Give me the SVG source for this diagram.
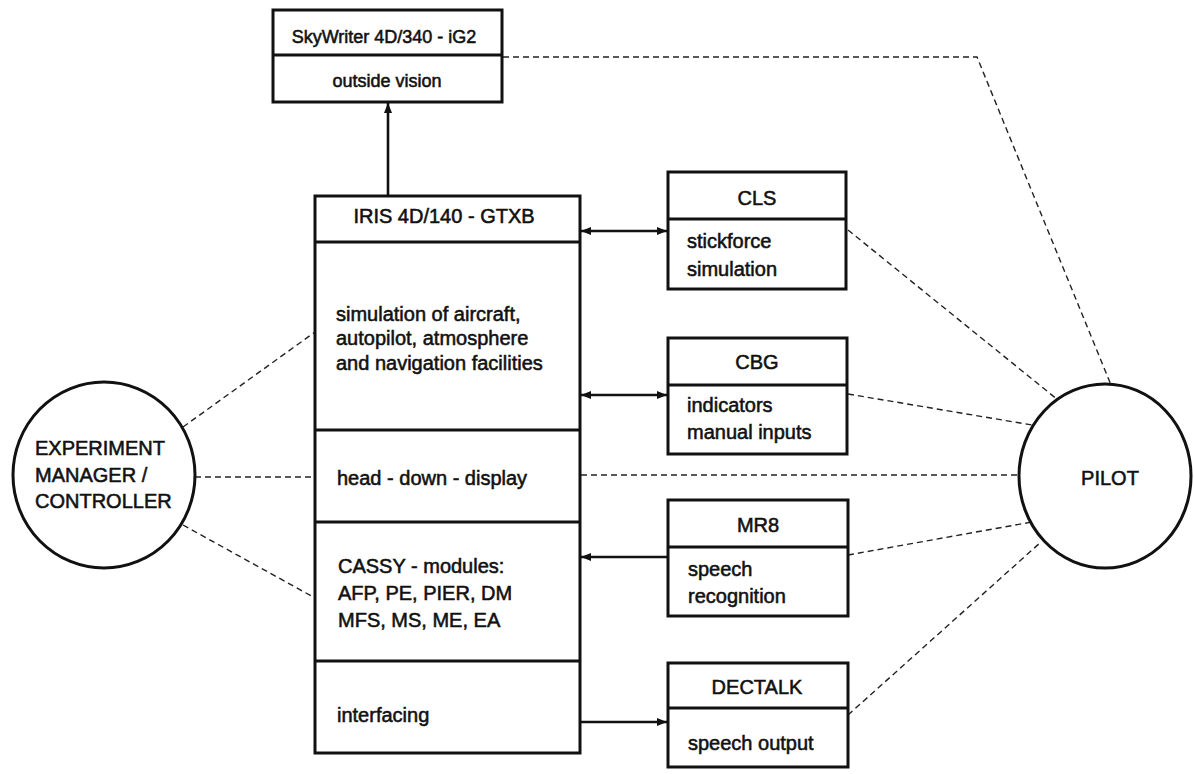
<svg xmlns="http://www.w3.org/2000/svg" width="1194" height="774" viewBox="0 0 1194 774">
<style>
  .box { fill: none; stroke: #111; stroke-width: 3; }
  .div { stroke: #111; stroke-width: 3; }
  .t { font-family: "Liberation Sans", Arial, sans-serif; font-size: 20px; fill: #111; stroke: #111; stroke-width: 0.55; }
  .ts { font-size: 18px; }
  .c { text-anchor: middle; }
  .dash { fill: none; stroke: #222; stroke-width: 1.4; stroke-dasharray: 6 4; }
  .arr { fill: none; stroke: #111; stroke-width: 2.6; }
  .circ { fill: none; stroke: #111; stroke-width: 3; }
</style>
<defs>
  <marker id="ah" viewBox="0 0 10 8" refX="10" refY="4" markerWidth="10" markerHeight="8" markerUnits="userSpaceOnUse" orient="auto-start-reverse">
    <path d="M0,0 L10,4 L0,8 z" fill="#111"/>
  </marker>
</defs>
<rect width="1194" height="774" fill="#fff"/>

<g id="connectors">
  <line class="arr" x1="388" y1="196" x2="388" y2="103" marker-end="url(#ah)"/>
  <line class="arr" x1="581" y1="231" x2="667" y2="231" marker-start="url(#ah)" marker-end="url(#ah)"/>
  <line class="arr" x1="581" y1="395" x2="667" y2="395" marker-start="url(#ah)" marker-end="url(#ah)"/>
  <line class="arr" x1="667" y1="557" x2="581" y2="557" marker-end="url(#ah)"/>
  <line class="arr" x1="581" y1="722" x2="667" y2="722" marker-end="url(#ah)"/>
  <polyline class="dash" points="503,57 977,57 1111,385"/>
  <line class="dash" x1="848" y1="230" x2="1058" y2="400"/>
  <line class="dash" x1="848" y1="394" x2="1032" y2="425"/>
  <line class="dash" x1="581" y1="475" x2="1019" y2="475"/>
  <line class="dash" x1="848" y1="555" x2="1032" y2="522"/>
  <line class="dash" x1="848" y1="715" x2="1041" y2="542"/>
  <line class="dash" x1="183" y1="427" x2="315" y2="332"/>
  <line class="dash" x1="195" y1="477" x2="315" y2="477"/>
  <line class="dash" x1="183" y1="525" x2="315" y2="598"/>
</g>

<g id="skywriter">
  <rect class="box" x="273" y="10" width="229" height="92"/>
  <line class="div" x1="273" y1="55" x2="502" y2="55"/>
  <text class="t ts c" x="384" y="43">SkyWriter 4D/340 - iG2</text>
  <text class="t ts c" x="387" y="87">outside vision</text>
</g>

<g id="iris">
  <rect class="box" x="315" y="196" width="265" height="557"/>
  <line class="div" x1="315" y1="242" x2="580" y2="242"/>
  <line class="div" x1="315" y1="430" x2="580" y2="430"/>
  <line class="div" x1="315" y1="522" x2="580" y2="522"/>
  <line class="div" x1="315" y1="661" x2="580" y2="661"/>
  <text class="t c" x="444" y="223">IRIS 4D/140 - GTXB</text>
  <text class="t" x="336" y="321">simulation of aircraft,</text>
  <text class="t" x="336" y="345">autopilot, atmosphere</text>
  <text class="t" x="336" y="370">and navigation facilities</text>
  <text class="t" x="337" y="485">head - down - display</text>
  <text class="t" x="338" y="573">CASSY - modules:</text>
  <text class="t" x="338" y="600">AFP, PE, PIER, DM</text>
  <text class="t" x="338" y="627">MFS, MS, ME, EA</text>
  <text class="t" x="337" y="722">interfacing</text>
</g>

<g id="cls">
  <rect class="box" x="668" y="172" width="178" height="117"/>
  <line class="div" x1="668" y1="219" x2="846" y2="219"/>
  <text class="t c" x="757" y="205">CLS</text>
  <text class="t" x="687" y="248">stickforce</text>
  <text class="t" x="687" y="276">simulation</text>
</g>

<g id="cbg">
  <rect class="box" x="668" y="338" width="179" height="116"/>
  <line class="div" x1="668" y1="385" x2="847" y2="385"/>
  <text class="t c" x="757" y="369">CBG</text>
  <text class="t" x="687" y="412">indicators</text>
  <text class="t" x="687" y="439">manual inputs</text>
</g>

<g id="mr8">
  <rect class="box" x="668" y="500" width="180" height="116"/>
  <line class="div" x1="668" y1="547" x2="848" y2="547"/>
  <text class="t c" x="758" y="532">MR8</text>
  <text class="t" x="688" y="576">speech</text>
  <text class="t" x="688" y="603">recognition</text>
</g>

<g id="dectalk">
  <rect class="box" x="668" y="663" width="180" height="104"/>
  <line class="div" x1="668" y1="708" x2="848" y2="708"/>
  <text class="t c" x="757" y="694">DECTALK</text>
  <text class="t" x="688" y="750">speech output</text>
</g>

<g id="experiment">
  <ellipse class="circ" cx="104" cy="475" rx="91" ry="93"/>
  <text class="t" x="35" y="455">EXPERIMENT</text>
  <text class="t" x="35" y="482">MANAGER /</text>
  <text class="t" x="35" y="508">CONTROLLER</text>
</g>

<g id="pilot">
  <ellipse class="circ" cx="1105" cy="476" rx="86" ry="92"/>
  <text class="t c" x="1110" y="485">PILOT</text>
</g>
</svg>
